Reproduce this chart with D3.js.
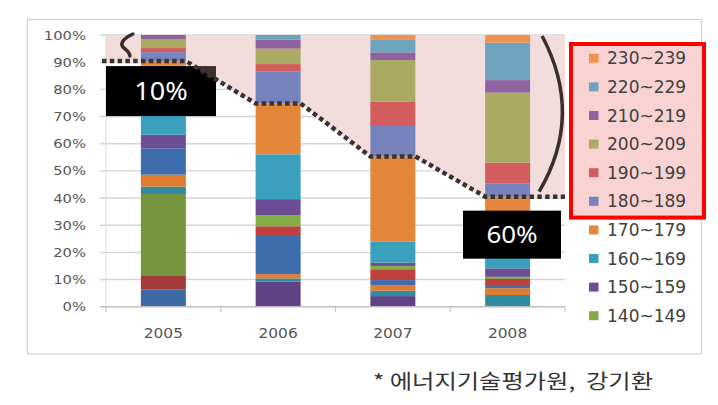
<!DOCTYPE html>
<html><head><meta charset="utf-8">
<script src="https://cdn.jsdelivr.net/npm/d3@7"></script>
<style>html,body{margin:0;padding:0;background:#fff}svg{display:block}</style>
</head><body>
<svg id="chart" width="718" height="405"></svg>
<script>
// ---------- data ----------
const years = ["2005", "2006", "2007", "2008"];
const bins = ["60~69","70~79","80~89","90~99","100~109","110~119","120~129","130~139","140~149",
              "150~159","160~169","170~179","180~189","190~199","200~209","210~219","220~229","230~239"];
const share2005 = [6.4,4.9,30.2,0,2.7,4.4,9.7,0,0,5.0,25.5,1.6,3.3,1.5,3.3,1.5,0,0];
const share2006 = [0,0,0,9.2,1.2,1.6,14.4,3.2,4.1,5.9,16.5,18.7,11.7,2.8,5.7,3.3,1.7,0];
const share2007 = [0,0,0,3.9,2.0,2.1,1.8,4.0,1.2,1.2,7.7,31.4,11.2,9.0,15.3,2.8,4.6,1.8];
const share2008 = [0,0,0,0,4.3,2.5,0.8,2.6,0.8,3.1,5.9,20.5,4.9,7.6,25.8,4.6,13.8,2.8];
const yTicks = [0,10,20,30,40,50,60,70,80,90,100];
const yTickLabels = ["0%","10%","20%","30%","40%","50%","60%","70%","80%","90%","100%"];
const highBinStart = "180~189";
const legendBins = ["230~239","220~229","210~219","200~209","190~199","180~189","170~179","160~169","150~159","140~149"];
const calloutYears = ["2005", "2008"];
const calloutLabels = ["10%", "60%"];
const sourceNote = "* 에너지기술평가원,\u00A0\u00A0강기환";

// ---------- styles ----------
const colors = ["#3B6AA6","#A63A3A","#76963E","#5E4487","#2F8CA0","#E07B30","#3E6DAD","#C0403F","#86AD45",
                "#6B4E95","#3AA0BD","#E3863A","#7683BC","#D35D5D","#AAAA62","#8E63A0","#6EA3BE","#F0924E"];

const svg = d3.select("#chart");
const plot = {left: 106, right: 565, top: 35, bottom: 306.7};

function stretch(sel, k) {
  sel.each(function () {
    const l = this.getComputedTextLength();
    d3.select(this).attr("textLength", l * k).attr("lengthAdjust", "spacingAndGlyphs");
  });
}

// outer frame
svg.append("rect").attr("x", 27.5).attr("y", 19.5).attr("width", 674).attr("height", 334.5)
  .attr("fill", "#fff").attr("stroke", "#CFCFCF").attr("stroke-width", 1.2);

const shares = [share2005, share2006, share2007, share2008];
const rows = years.map((y, i) => {
  const r = {year: y};
  bins.forEach((b, j) => r[b] = shares[i][j]);
  return r;
});

const x = d3.scaleBand().domain(years).range([plot.left, plot.right]).paddingInner(0.608).paddingOuter(0.304);
const y = d3.scaleLinear().domain([0, 100]).range([plot.bottom, plot.top]);
const color = d3.scaleOrdinal().domain(bins).range(colors);

const stack = d3.stack().keys(bins)(rows);

// level of boundary below the high bins
const hiIdx = bins.indexOf(highBinStart);
const level = years.map((yr, i) => d3.sum(shares[i].slice(0, hiIdx)));

// gridlines
svg.append("g").selectAll("line").data(yTicks.slice(1)).join("line")
  .attr("x1", plot.left - 6).attr("x2", plot.right)
  .attr("y1", d => y(d)).attr("y2", d => y(d))
  .attr("stroke", "#D4D4D4").attr("stroke-width", 1.4);

// pink highlighted region
const bw = x.bandwidth();
const linePts = [[plot.left - 4, y(level[0])]];
years.forEach((yr, i) => {
  if (i > 0) linePts.push([x(yr), y(level[i])]);
  if (i < years.length - 1) linePts.push([x(yr) + bw, y(level[i])]);
});
linePts.push([plot.right, y(level[years.length - 1])]);
const areaPts = [[plot.left, y(100)], [plot.right, y(100)]]
  .concat(linePts.slice().reverse().map((p, i, a) => i === a.length - 1 ? [plot.left, p[1]] : p));
svg.append("path").attr("d", d3.line()(areaPts) + "Z").attr("fill", "#F2DDDC");

// y axis labels and line
svg.append("g").selectAll("text").data(yTicks).join("text")
  .attr("x", 86).attr("y", d => y(d)).attr("dy", "0.36em")
  .attr("text-anchor", "end").attr("font-family", "DejaVu Sans").attr("font-size", 12.5)
  .attr("fill", "#555").text((d, i) => yTickLabels[i]).call(stretch, 1.18);
svg.append("line").attr("x1", plot.left).attr("x2", plot.left).attr("y1", y(100)).attr("y2", y(0))
  .attr("stroke", "#D9D9D9").attr("stroke-width", 1);

// bars
svg.append("g").selectAll("g").data(stack).join("g").attr("fill", d => color(d.key))
  .selectAll("rect").data(d => d).join("rect")
  .attr("x", d => x(d.data.year)).attr("width", bw)
  .attr("y", d => y(d[1])).attr("height", d => y(d[0]) - y(d[1]));

// x axis
svg.append("line").attr("x1", plot.left - 6).attr("x2", plot.right).attr("y1", y(0)).attr("y2", y(0))
  .attr("stroke", "#BFBFBF").attr("stroke-width", 1.4);
const tickXs = years.map(yr => x(yr) - x.step() * x.paddingInner() / 2).concat([plot.right]);
svg.append("g").selectAll("line").data(tickXs).join("line")
  .attr("x1", d => d).attr("x2", d => d).attr("y1", y(0)).attr("y2", y(0) + 5)
  .attr("stroke", "#BFBFBF").attr("stroke-width", 1.2);
svg.append("g").selectAll("text").data(years).join("text")
  .attr("x", d => x(d) + bw / 2).attr("y", 338)
  .attr("text-anchor", "middle").attr("font-family", "DejaVu Sans").attr("font-size", 14)
  .attr("fill", "#555").text(d => d).call(stretch, 1.1);

// callout boxes
const boxes = [
  {yr: calloutYears[0], label: calloutLabels[0], x0: plot.left, w: 110, top: y(level[0]) + 5, h: 50, fs: 25},
  {yr: calloutYears[1], label: calloutLabels[1], x0: plot.right - 102, w: 98, top: y(level[3]) + 14, h: 48, fs: 24}
];
const defs = svg.append("defs");
const clip = defs.append("clipPath").attr("id", "boxclip");
boxes.forEach(b => {
  svg.append("rect").attr("x", b.x0).attr("y", b.top).attr("width", b.w).attr("height", b.h).attr("fill", "#000");
  clip.append("rect").attr("x", b.x0).attr("y", b.top).attr("width", b.w).attr("height", b.h);
  svg.append("text").attr("x", b.x0 + b.w / 2).attr("y", b.top + b.h / 2).attr("dy", "0.36em")
    .attr("text-anchor", "middle").attr("font-family", "Noto Sans").attr("font-size", b.fs)
    .attr("fill", "#fff").text(b.label).call(stretch, 1.08);
});
svg.append("path").attr("d", d3.line()(areaPts) + "Z").attr("clip-path", "url(#boxclip)")
  .attr("fill", "rgb(211,145,145)").attr("fill-opacity", 0.3);

// dotted boundary
svg.append("path").attr("d", d3.line()(linePts)).attr("fill", "none")
  .attr("stroke", "#3C3232").attr("stroke-width", 4.5).attr("stroke-dasharray", "4.5,3.3");

// brackets
const bx = x(years[0]) - 9, t = y(100), m = y(level[0]);
svg.append("path")
  .attr("d", `M${bx + 1},${t - 1} C${bx - 8},${t + 3} ${bx - 12},${t + 8} ${bx - 9},${t + 12} C${bx - 6},${t + 15} ${bx - 2},${t + 17} ${bx - 2},${m - 5}`)
  .attr("fill", "none").attr("stroke", "#3A2A2A").attr("stroke-width", 3.5).attr("stroke-linecap", "round");
const rx0 = x(years[3]) + bw + 12, ry1 = y(level[3]) - 5;
svg.append("path")
  .attr("d", `M${rx0},${t + 1} Q${rx0 + 42},${(t + ry1) / 2 + 2} ${rx0 - 3},${ry1}`)
  .attr("fill", "none").attr("stroke", "#3A2E2E").attr("stroke-width", 3.5);

// legend
const lg = {x: 589, y0: 58.3, dy: 28.6};
const hiCount = legendBins.filter(b => bins.indexOf(b) >= hiIdx).length;
svg.append("rect").attr("x", 571).attr("y", 44).attr("width", 133).attr("height", lg.dy * (hiCount - 1) + 30 + 0.6)
  .attr("fill", "#F9D2D2").attr("stroke", "#FF0000").attr("stroke-width", 4);
const li = svg.append("g").selectAll("g").data(legendBins).join("g")
  .attr("transform", (d, i) => `translate(${lg.x},${lg.y0 + i * lg.dy})`);
li.append("rect").attr("x", 0).attr("y", -4.5).attr("width", 9.5).attr("height", 9).attr("fill", d => color(d));
li.append("text").attr("x", 18).attr("y", 0).attr("dy", "0.36em")
  .attr("font-family", "DejaVu Sans").attr("font-size", 17).attr("fill", "#404040").text(d => d);

// source note
svg.append("text").attr("x", 373).attr("y", 389)
  .attr("font-family", "Noto Sans CJK KR").attr("font-size", 20).attr("fill", "#333")
  .text(sourceNote).attr("textLength", 280).attr("lengthAdjust", "spacingAndGlyphs");
</script>
</body></html>
